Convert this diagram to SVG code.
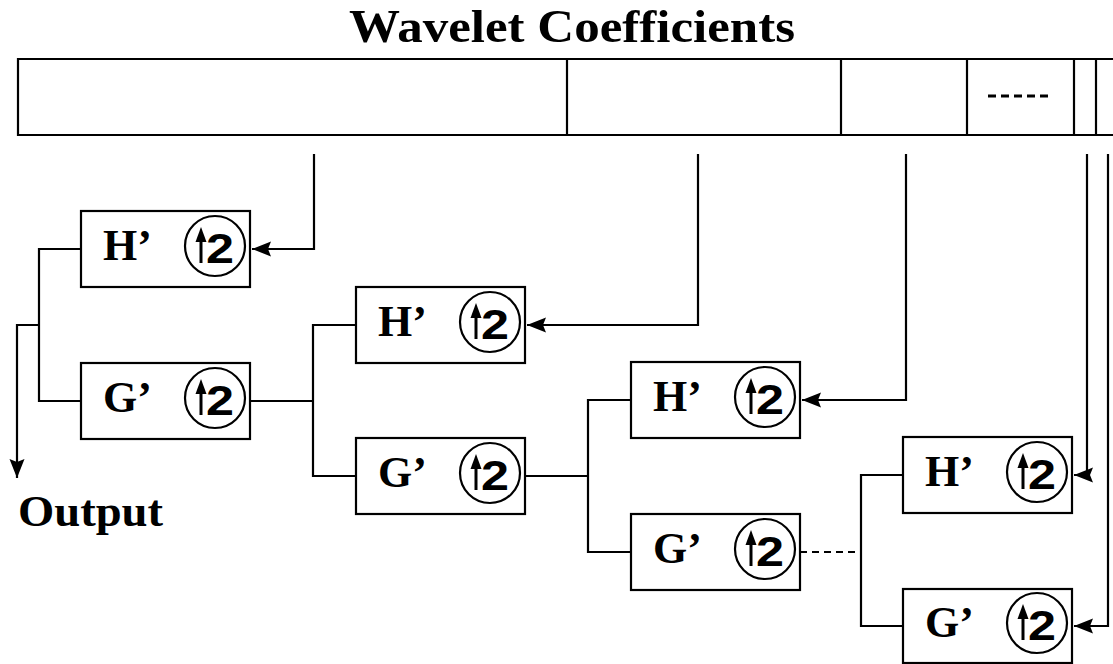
<svg xmlns="http://www.w3.org/2000/svg" width="1113" height="664" viewBox="0 0 1113 664">
<style>
  .ln{fill:none;stroke:#000;stroke-width:2.2}
  .box{fill:#fff;stroke:#000;stroke-width:2.2}
  .circ{fill:none;stroke:#000;stroke-width:2.2}
  .lbl{font-family:"Liberation Serif","Times New Roman",serif;font-weight:bold;font-size:44px;fill:#000}
  .two{font-family:"Liberation Sans",Arial,sans-serif;font-weight:bold;font-size:42px;fill:#000}
  .title{font-family:"Liberation Serif","Times New Roman",serif;font-weight:bold;font-size:47px;fill:#000}
  .dash{fill:none;stroke:#000;stroke-width:2.2;stroke-dasharray:7 5}
</style>
<defs>
  <marker id="ah" markerUnits="userSpaceOnUse" markerWidth="22" markerHeight="18" refX="19" refY="8" orient="auto">
    <path d="M19,8 L0,0.5 L3,8 L0,15.5 z" fill="#000"/>
  </marker>
  <g id="up2">
    <circle cx="0" cy="-3" r="30" class="circ"/>
    <line x1="-14" y1="14" x2="-14" y2="-10" stroke="#000" stroke-width="3"/>
    <polygon points="-14,-22 -19.5,-7 -8.5,-7" fill="#000"/>
    <text x="-9" y="14" class="two" textLength="28" lengthAdjust="spacingAndGlyphs">2</text>
  </g>
</defs>

<text x="349" y="42" class="title" textLength="446" lengthAdjust="spacingAndGlyphs">Wavelet Coefficients</text>

<g id="bar">
  <path class="ln" d="M1120,59 H18 V135 H1120"/>
  <line class="ln" x1="567" y1="59" x2="567" y2="135"/>
  <line class="ln" x1="841" y1="59" x2="841" y2="135"/>
  <line class="ln" x1="967" y1="59" x2="967" y2="135"/>
  <line class="ln" x1="1074" y1="59" x2="1074" y2="135"/>
  <line class="ln" x1="1096" y1="59" x2="1096" y2="135"/>
  <line x1="988" y1="96" x2="1050" y2="96" stroke="#000" stroke-width="3" stroke-dasharray="8 5"/>
</g>

<g id="connectors">
  <path class="ln" d="M314,154 V249 H252" marker-end="url(#ah)"/>
  <path class="ln" d="M698,154 V325 H527" marker-end="url(#ah)"/>
  <path class="ln" d="M906,154 V400 H802" marker-end="url(#ah)"/>
  <path class="ln" d="M1087,154 V475 H1074" marker-end="url(#ah)"/>
  <path class="ln" d="M1108,154 V626 H1074" marker-end="url(#ah)"/>
  <path class="ln" d="M81,249 H39 V401 H81"/>
  <path class="ln" d="M39,325 H17 V478" marker-end="url(#ah)"/>
  <path class="ln" d="M250,401 H313"/>
  <path class="ln" d="M356,325 H313 V476 H356"/>
  <path class="ln" d="M525,476 H588"/>
  <path class="ln" d="M631,400 H588 V552 H631"/>
  <path class="dash" d="M800,552 H861"/>
  <path class="ln" d="M903,475 H861 V626 H903"/>
</g>

<g id="H1">
  <rect class="box" x="81" y="211" width="169" height="76"/>
  <text class="lbl" x="103" y="260">H’</text>
  <use href="#up2" x="215" y="249"/>
</g>
<g id="G1">
  <rect class="box" x="81" y="363" width="169" height="76"/>
  <text class="lbl" x="103" y="412">G’</text>
  <use href="#up2" x="215" y="401"/>
</g>
<g id="H2">
  <rect class="box" x="356" y="287" width="169" height="76"/>
  <text class="lbl" x="378" y="336">H’</text>
  <use href="#up2" x="490" y="325"/>
</g>
<g id="G2">
  <rect class="box" x="356" y="438" width="169" height="76"/>
  <text class="lbl" x="378" y="487">G’</text>
  <use href="#up2" x="490" y="476"/>
</g>
<g id="H3">
  <rect class="box" x="631" y="362" width="169" height="76"/>
  <text class="lbl" x="653" y="411">H’</text>
  <use href="#up2" x="765" y="400"/>
</g>
<g id="G3">
  <rect class="box" x="631" y="514" width="169" height="76"/>
  <text class="lbl" x="653" y="563">G’</text>
  <use href="#up2" x="765" y="552"/>
</g>
<g id="H4">
  <rect class="box" x="903" y="437" width="169" height="76"/>
  <text class="lbl" x="925" y="486">H’</text>
  <use href="#up2" x="1037" y="475"/>
</g>
<g id="G4">
  <rect class="box" x="903" y="589" width="169" height="74"/>
  <text class="lbl" x="925" y="637">G’</text>
  <use href="#up2" x="1037" y="626"/>
</g>

<text x="18" y="526" class="lbl" textLength="145" lengthAdjust="spacingAndGlyphs">Output</text>
</svg>
